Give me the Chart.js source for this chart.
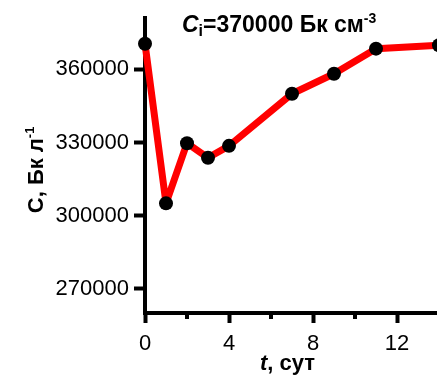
<!DOCTYPE html>
<html>
<head>
<meta charset="utf-8">
<script src="https://cdn.jsdelivr.net/npm/chart.js@4/dist/chart.umd.min.js"></script>
<style>
body { margin: 0; overflow: hidden; background: #fff; }
</style>
</head>
<body>
<canvas id="chart" width="450" height="377"></canvas>
<script>
// data
let days = [0, 1, 2, 3, 4, 7, 9, 11, 14];
let conc = [370500, 305000, 329700, 323700, 328600, 350000, 358200, 368500, 369900];
let xTicks = [0, 4, 8, 12];
let xMinor = [2, 6, 10];
let yTicks = [270000, 300000, 330000, 360000];

let FONT = "'Liberation Sans', Arial, sans-serif";

// text with mixed styles: [text, style, size, shift]
function drawRich(ctx, parts, x, y)
{
    let cx = x;
    for (let i = 0; i < parts.length; i++)
    {
        let p = parts[i];
        ctx.font = p[1] + " " + p[2] + "px " + FONT;
        ctx.fillText(p[0], cx, y + p[3]);
        cx += ctx.measureText(p[0]).width;
    }
}

let extras = {
    id: "extras",
    afterDraw: function(chart)
    {
        let ctx = chart.ctx;
        let area = chart.chartArea;
        let xs = chart.scales.x;
        ctx.save();
        ctx.fillStyle = "#000";
        ctx.strokeStyle = "#000";
        ctx.textBaseline = "alphabetic";
        ctx.textAlign = "left";

        // minor ticks on x
        ctx.lineWidth = 4;
        for (let i = 0; i < xMinor.length; i++)
        {
            let px = xs.getPixelForValue(xMinor[i]);
            ctx.beginPath();
            ctx.moveTo(px, area.bottom);
            ctx.lineTo(px, area.bottom + 6);
            ctx.stroke();
        }

        // top label
        drawRich(ctx, [
            ["C", "italic bold", 23, 0],
            ["i", "bold", 16, 4],
            ["=370000 Бк см", "bold", 23, 0],
            ["-3", "bold", 14, -9]
        ], area.left + 37, area.top + 14);

        // x title
        drawRich(ctx, [
            ["t", "italic bold", 22, 0],
            [", сут", "bold", 22, 0]
        ], area.left + 115, area.bottom + 57);

        // y title
        ctx.translate(area.left - 102, area.top + 195);
        ctx.rotate(-Math.PI / 2);
        drawRich(ctx, [
            ["C, Бк л", "bold", 22, 0],
            ["-1", "bold", 13, -9]
        ], 0, 0);
        ctx.restore();
    }
};

let myChart = document.getElementById("chart").getContext("2d");
let display = new Chart(myChart,
{
    type: "line",
    data:
    {
        datasets: [
            {
                data: days.map(function(d, i) { return { x: d, y: conc[i] }; }),
                borderColor: "#ff0000",
                borderWidth: 7,
                borderJoinStyle: "round",
                pointRadius: 7,
                pointBackgroundColor: "#000",
                pointBorderWidth: 0,
                tension: 0,
                clip: false
            }
        ]
    },
    options:
    {
        responsive: false,
        animation: false,
        layout: { padding: { top: 17, right: 11, left: 0, bottom: 0 } },
        plugins: { legend: { display: false }, title: { display: false }, tooltip: { enabled: false } },
        scales:
        {
            x: {
                type: "linear",
                min: 0,
                max: 14,
                afterBuildTicks: function(s) { s.ticks = xTicks.map(function(v) { return { value: v }; }); },
                afterFit: function(s) { s.height = 64; },
                grid: { drawOnChartArea: false, tickLength: 10, tickWidth: 4, tickColor: "#000" },
                border: { color: "#000", width: 4 },
                ticks: { color: "#000", padding: 8, font: { family: FONT, size: 22 }, maxRotation: 0,
                    callback: function(v) { return String(v); } }
            },
            y: {
                min: 260000,
                max: 381000,
                afterBuildTicks: function(s) { s.ticks = yTicks.map(function(v) { return { value: v }; }); },
                afterFit: function(s) { s.width = 145; },
                grid: { drawOnChartArea: false, tickLength: 11, tickWidth: 4, tickColor: "#000" },
                border: { color: "#000", width: 4 },
                ticks: { color: "#000", padding: 5, font: { family: FONT, size: 22 },
                    callback: function(v) { return String(v); } }
            }
        }
    },
    plugins: [extras]
});
</script>
</body>
</html>
